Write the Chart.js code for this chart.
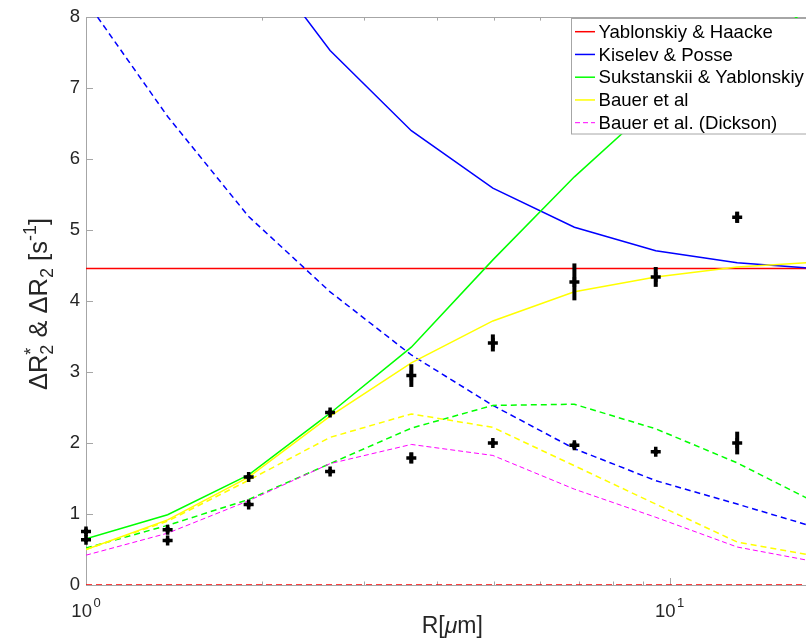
<!DOCTYPE html>
<html><head><meta charset="utf-8">
<script src="https://cdn.jsdelivr.net/npm/chart.js@4.4.1/dist/chart.umd.min.js"></script>
<style>
html,body{margin:0;padding:0;overflow:hidden;background:#fff;width:806px;height:638px}
#wrap{position:absolute;left:0;top:0;width:830px;height:638px}
canvas{display:block}
</style>
</head><body><div id="wrap"><canvas id="c" width="830" height="638"></canvas></div>
<script>
// ---- data ----
const radii        = [1, 1.38, 1.9, 2.62, 3.61, 4.98, 6.87, 9.47, 13.06, 18];
const yhR2star     = [4.46, 4.46, 4.46, 4.46, 4.46, 4.46, 4.46, 4.46, 4.46, 4.46];
const yhR2         = [0, 0, 0, 0, 0, 0, 0, 0, 0, 0];
const kpR2star     = [17, 12, 9.05, 7.53, 6.40, 5.59, 5.04, 4.71, 4.54, 4.455];
const kpR2         = [8.23, 6.60, 5.19, 4.13, 3.24, 2.53, 1.92, 1.47, 1.14, 0.80];
const syR2star     = [0.65, 0.99, 1.55, 2.42, 3.35, 4.58, 5.75, 6.79, 7.45, 8.2];
const syR2         = [0.52, 0.84, 1.205, 1.71, 2.21, 2.53, 2.546, 2.2, 1.72, 1.14];
const bauerR2star  = [0.50, 0.917, 1.52, 2.38, 3.13, 3.72, 4.13, 4.34, 4.48, 4.55];
const bauerR2      = [0.50, 0.90, 1.476, 2.08, 2.41, 2.22, 1.68, 1.14, 0.605, 0.40];
const dicksonR2    = [0.42, 0.73, 1.187, 1.71, 1.98, 1.825, 1.35, 0.954, 0.535, 0.32];

const measRadii     = [1, 1.38, 1.9, 2.62, 3.61, 4.98, 6.87, 9.47, 13.06];
const measR2star    = [0.754, 0.778, 1.52, 2.43, 2.95, 3.41, 4.27, 4.34, 5.18];
const measR2starErr = [0.04, 0.04, 0.03, 0.03, 0.16, 0.12, 0.26, 0.14, 0.08];
const measR2        = [0.638, 0.628, 1.135, 1.60, 1.79, 2.00, 1.97, 1.876, 2.00];
const measR2Err     = [0.03, 0.03, 0.03, 0.03, 0.08, 0.03, 0.04, 0.03, 0.16];

const yTicks       = [0, 1, 2, 3, 4, 5, 6, 7, 8];
const xMajorTicks  = [1, 10];
const xMajorExp    = ['0', '1'];
const xMinorTicks  = [2, 3, 4, 5, 6, 7, 8, 9];
const legendLabels = ['Yablonskiy & Haacke', 'Kiselev & Posse', 'Sukstanskii & Yablonskiy', 'Bauer et al', 'Bauer et al. (Dickson)'];

// ---- styling ----
const FONT = "'Liberation Sans', Arial, Helvetica, sans-serif";
const AXIS_GRAY = '#a6a6a6';
const TEXT = '#262626';

const pts = (xs, ys) => xs.map((x, i) => ({x: x, y: ys[i]}));
function model(label, ys, color, dash, width) {
  return {label, data: pts(radii, ys), showLine: true, borderColor: color, backgroundColor: color,
    borderWidth: width, borderDash: dash, pointRadius: 0, pointHoverRadius: 0, tension: 0, fill: false};
}
function measured(label, ys, errs) {
  return {label, data: pts(measRadii, ys), errors: errs, showLine: false, pointStyle: 'cross',
    pointRadius: 5, pointBorderWidth: 3.5, borderColor: '#000', backgroundColor: '#000', clip: false};
}

const datasets = [
  measured('measured ΔR2*', measR2star, measR2starErr),
  measured('measured ΔR2', measR2, measR2Err),
  model('Bauer et al. (Dickson)', dicksonR2, '#ff00ff', [5, 3], 1),
  model('Bauer et al (ΔR2)', bauerR2, '#ffff00', [6, 4], 1.5),
  model('Bauer et al', bauerR2star, '#ffff00', [], 1.5),
  model('Sukstanskii & Yablonskiy (ΔR2)', syR2, '#00ff00', [6, 4], 1.5),
  model('Sukstanskii & Yablonskiy', syR2star, '#00ff00', [], 1.5),
  model('Kiselev & Posse (ΔR2)', kpR2, '#0000ff', [6, 4], 1.5),
  model('Kiselev & Posse', kpR2star, '#0000ff', [], 1.5),
  model('Yablonskiy & Haacke (ΔR2)', yhR2, '#ff0000', [6, 4], 1.5),
  model('Yablonskiy & Haacke', yhR2star, '#ff0000', [], 1.5)
];

// axes box and inward ticks (drawn beneath the data, like MATLAB)
const axesBox = {
  id: 'axesBox',
  beforeDatasetsDraw(chart) {
    const {ctx, chartArea: a, scales: {x, y}} = chart;
    ctx.save();
    ctx.strokeStyle = AXIS_GRAY; ctx.lineWidth = 1;
    ctx.strokeRect(Math.round(a.left) + 0.5, Math.round(a.top) + 0.5, Math.round(a.right - a.left), Math.round(a.bottom - a.top));
    ctx.beginPath();
    yTicks.forEach(v => {
      const py = Math.round(y.getPixelForValue(v)) + 0.5;
      ctx.moveTo(a.left, py); ctx.lineTo(a.left + 7, py);
      ctx.moveTo(a.right, py); ctx.lineTo(a.right - 7, py);
    });
    const tick = (v, len) => {
      const px = Math.round(x.getPixelForValue(v)) + 0.5;
      ctx.moveTo(px, a.bottom); ctx.lineTo(px, a.bottom - len);
      ctx.moveTo(px, a.top); ctx.lineTo(px, a.top + len);
    };
    xMajorTicks.forEach(v => tick(v, 7));
    xMinorTicks.forEach(v => tick(v, 3.5));
    ctx.stroke();
    ctx.restore();
  }
};

// vertical error bars
const errorBars = {
  id: 'errorBars',
  afterDatasetsDraw(chart) {
    const {ctx, scales: {x, y}} = chart;
    ctx.save();
    ctx.strokeStyle = '#000'; ctx.lineWidth = 4; ctx.lineCap = 'butt';
    chart.data.datasets.forEach(ds => {
      if (!ds.errors) return;
      ds.data.forEach((p, i) => {
        const e = ds.errors[i];
        const px = x.getPixelForValue(p.x);
        ctx.beginPath();
        ctx.moveTo(px, y.getPixelForValue(p.y - e));
        ctx.lineTo(px, y.getPixelForValue(p.y + e));
        ctx.stroke();
      });
    });
    ctx.restore();
  }
};

// axis labels with TeX-like sub/superscripts
const axisText = {
  id: 'axisText',
  afterDraw(chart) {
    const {ctx, chartArea: a, scales: {x}} = chart;
    ctx.save();
    ctx.fillStyle = TEXT;
    ctx.textBaseline = 'alphabetic';
    ctx.textAlign = 'left';
    // x tick labels 10^n
    xMajorTicks.forEach((v, i) => {
      const px = x.getPixelForValue(v);
      ctx.font = '18.5px ' + FONT;
      const w1 = ctx.measureText('10').width;
      ctx.font = '13px ' + FONT;
      const w2 = ctx.measureText(xMajorExp[i]).width;
      const start = px - (w1 + 1.5 + w2) / 2;
      ctx.font = '18.5px ' + FONT;
      ctx.fillText('10', start, 617);
      ctx.font = '13px ' + FONT;
      ctx.fillText(xMajorExp[i], start + w1 + 1.5, 607);
    });
    // x title R[μm]
    const xb = '23px ' + FONT, xi = 'italic 23px ' + FONT;
    const xparts = [['R[', xb], ['μ', xi], ['m]', xb]];
    let tw = 0;
    xparts.forEach(p => { ctx.font = p[1]; tw += ctx.measureText(p[0]).width; });
    let cx = (a.left + a.right) / 2 - tw / 2;
    xparts.forEach(p => { ctx.font = p[1]; ctx.fillText(p[0], cx, 633); cx += ctx.measureText(p[0]).width; });
    // y title ΔR*_2 & ΔR_2 [s^-1]
    const big = '25.5px ' + FONT, sm = '18px ' + FONT;
    const parts = [
      {t: 'ΔR', f: big, dy: 0},
      {stack: [{t: '*', f: sm, dy: -10}, {t: '2', f: sm, dy: 6}]},
      {t: ' & ΔR', f: big, dy: 0},
      {t: '2', f: sm, dy: 6},
      {t: ' [s', f: big, dy: 0},
      {t: '-1', f: sm, dy: -11},
      {t: ']', f: big, dy: 0}
    ];
    const widthOf = p => {
      if (p.stack) return Math.max(...p.stack.map(widthOf));
      ctx.font = p.f; return ctx.measureText(p.t).width;
    };
    const total = parts.reduce((s, p) => s + widthOf(p), 0);
    ctx.translate(47, (a.top + a.bottom) / 2 + 3);
    ctx.rotate(-Math.PI / 2);
    let ux = -total / 2;
    parts.forEach(p => {
      const w = widthOf(p);
      const items = p.stack ? p.stack : [p];
      items.forEach(q => { ctx.font = q.f; ctx.fillText(q.t, ux, q.dy); });
      ux += w;
    });
    ctx.restore();
  }
};

// boxed legend in the upper right corner of the axes
const boxLegend = {
  id: 'boxLegend',
  afterDraw(chart) {
    const {ctx} = chart;
    const left = 571.5, top = 18.5, right = 812, bottom = 134;
    ctx.save();
    ctx.fillStyle = '#fff';
    ctx.fillRect(left, top, right - left, bottom - top);
    ctx.strokeStyle = AXIS_GRAY; ctx.lineWidth = 1;
    ctx.strokeRect(left, top, right - left, bottom - top);
    ctx.font = '18.6px ' + FONT;
    ctx.textBaseline = 'middle'; ctx.textAlign = 'left';
    legendLabels.forEach((lab, i) => {
      const ds = chart.data.datasets.find(d => d.label === lab);
      const cy = 31.7 + i * 22.75;
      ctx.strokeStyle = ds.borderColor; ctx.lineWidth = ds.borderWidth;
      ctx.setLineDash(ds.borderDash || []);
      ctx.beginPath(); ctx.moveTo(575, cy); ctx.lineTo(595, cy); ctx.stroke();
      ctx.setLineDash([]);
      ctx.fillStyle = '#000';
      ctx.fillText(lab, 598.5, cy + 1);
    });
    ctx.restore();
  }
};

new Chart(document.getElementById('c'), {
  type: 'scatter',
  data: {datasets},
  options: {
    responsive: false, animation: false, devicePixelRatio: 1,
    layout: {padding: {top: 12, right: 11.5, left: 0, bottom: 0}},
    plugins: {legend: {display: false}, tooltip: {enabled: false}},
    scales: {
      x: {type: 'logarithmic', min: 1, max: 18,
          ticks: {display: false}, grid: {display: false, drawTicks: false}, border: {display: false},
          afterFit(s) { s.height = 53; }},
      y: {type: 'linear', min: 0, max: 8,
          ticks: {stepSize: 1, padding: 6, color: TEXT, font: {family: FONT, size: 18.5}},
          grid: {display: false, drawTicks: false}, border: {display: false},
          afterFit(s) { s.width = 86; }}
    }
  },
  plugins: [axesBox, errorBars, axisText, boxLegend]
});
</script>
</body></html>
